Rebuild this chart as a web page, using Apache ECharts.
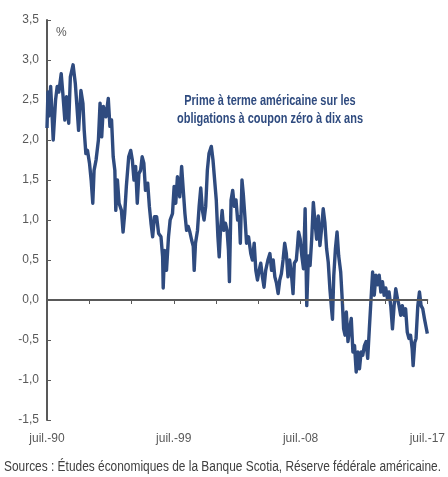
<!DOCTYPE html>
<html><head><meta charset="utf-8">
<script src="https://cdn.jsdelivr.net/npm/echarts@6/dist/echarts.min.js"></script>
<style>html,body{margin:0;padding:0;background:#fff}#c{width:448px;height:477px}</style>
</head><body><div id="c"></div>
<script>
// months since July 1990
const months = [0,0.8,1.6,3.1,4.2,5.3,7.3,8.7,10.1,12.1,13.5,15.2,16.6,18.5,19.9,22.2,24.1,25.5,26.9,28.9,30.6,31.7,33.1,34.5,36.2,37.6,39.0,40.1,41.8,43.8,45.2,46.6,48.0,50.2,52.2,53.6,55.0,56.4,57.8,58.6,60.0,61.4,63.4,64.8,66.2,67.6,69.6,71.3,72.7,74.1,75.5,76.9,78.3,79.7,81.1,82.5,83.9,85.8,87.2,88.6,90.0,91.5,93.4,95.1,97.1,98.5,99.0,100.2,101.8,103.5,104.9,106.9,108.3,109.7,111.1,113.1,114.7,116.1,117.5,118.9,120.3,121.7,123.2,124.6,125.4,126.5,128.2,129.6,131.0,132.4,133.8,135.2,136.6,138.0,140.0,141.4,142.8,144.2,145.6,146.7,147.8,149.2,150.6,152.0,153.4,154.6,155.4,156.8,158.2,159.6,161.0,162.4,163.8,164.7,166.1,167.2,168.6,170.0,171.7,173.6,175.0,176.5,177.9,179.3,180.7,182.1,183.5,184.9,186.3,188.2,189.9,191.3,192.7,194.1,195.5,196.9,198.3,199.7,201.1,202.5,203.9,205.3,206.7,208.2,209.6,210.7,212.4,213.2,214.3,215.7,217.1,218.5,219.9,221.3,222.7,224.1,225.5,226.9,228.3,229.7,231.1,232.5,233.9,235.3,236.7,238.2,239.6,241.0,242.4,243.2,244.3,245.7,247.1,248.5,250.2,251.6,252.7,253.9,255.0,256.4,257.8,259.2,260.6,262.0,263.4,264.8,266.2,267.6,269.0,270.4,271.8,273.2,274.6,276.0,277.4,278.8,280.2,281.6,283.0,284.4,285.8,287.2,288.6,290.0,291.4,292.9,294.3,295.7,297.1,298.5,299.9,301.3,302.7,304.1,305.5,306.9,308.3,309.7,311.1,311.9,313.3,314.4,315.9,317.3,318.7,320.1,321.5,323.2,324.0];
const values = [2.15,2.6,2.3,2.67,2.35,2.0,2.5,2.67,2.6,2.83,2.58,2.25,2.54,2.21,2.79,2.94,2.71,2.42,2.12,2.62,2.46,2.12,1.83,1.87,1.71,1.5,1.21,1.62,1.75,2.0,2.46,2.04,2.42,2.29,2.52,2.17,2.25,1.79,1.62,1.12,1.5,1.21,1.12,0.85,1.08,1.42,1.79,1.87,1.75,1.5,1.67,1.21,1.58,1.62,1.79,1.71,1.37,1.46,1.17,0.96,0.79,1.04,1.04,0.83,0.79,0.54,0.15,0.62,0.37,0.79,1.0,1.08,1.42,1.21,1.54,1.29,1.67,1.37,1.08,0.87,0.92,0.85,0.75,0.67,0.37,0.71,0.87,1.17,1.4,1.12,1.0,1.17,1.62,1.83,1.92,1.75,1.5,1.25,0.79,0.54,0.87,1.12,0.87,0.96,0.87,0.62,0.23,1.25,1.37,1.17,1.25,1.0,1.04,0.71,1.5,1.33,1.04,0.71,0.79,0.58,0.5,0.71,0.37,0.25,0.37,0.46,0.29,0.16,0.37,0.5,0.58,0.37,0.5,0.29,0.21,0.08,0.25,0.33,0.5,0.71,0.58,0.29,0.5,0.33,0.08,0.46,0.5,0.64,0.85,0.76,0.55,0.39,1.14,-0.07,0.55,0.43,0.76,1.22,0.97,0.76,1.05,0.68,0.89,1.14,0.97,0.64,0.47,0.14,-0.11,-0.24,0.3,0.64,0.85,0.55,0.35,-0.02,-0.36,-0.44,-0.15,-0.52,-0.36,-0.23,-0.65,-0.57,-0.9,-0.65,-0.86,-0.65,-0.69,-0.57,-0.52,-0.73,-0.36,0.0,0.35,0.06,0.31,0.19,0.31,0.1,0.23,0.06,0.15,0.02,0.1,-0.08,-0.36,-0.07,0.14,0.02,-0.07,-0.19,-0.07,-0.19,-0.11,-0.4,-0.48,-0.44,-0.61,-0.82,-0.53,-0.48,-0.07,0.1,-0.07,-0.11,-0.23,-0.36,-0.42];
const labelMonths = [0, 108, 216, 324];
const labelTexts = ['juil.-90', 'juil.-99', 'juil.-08', 'juil.-17'];
const titleLines = ['Prime à terme américaine sur les', 'obligations à coupon zéro à dix ans'];
const unitText = '%';
const sourceText = 'Sources : Études économiques de la Banque Scotia, Réserve fédérale américaine.';

const FONT = "'Liberation Sans',Arial,sans-serif";
const AXIS = '#595959';
const LINE = '#2f4b7f';

// measure text to compress it horizontally (the original uses a narrow face)
const ctx = document.createElement('canvas').getContext('2d');
function textW(txt, font) { ctx.font = font; return ctx.measureText(txt).width; }
const TITLE_FONT = 'bold 14px ' + FONT;
const SRC_FONT = '14px ' + FONT;
const titleScale = 186 / Math.max(textW(titleLines[0], TITLE_FONT), textW(titleLines[1], TITLE_FONT));
const srcScale = 437 / textW(sourceText, SRC_FONT);

const chart = echarts.init(document.getElementById('c'), null, {renderer: 'canvas'});
const data = months.map((m, i) => [m, values[i]]);

chart.setOption({
  animation: false,
  grid: {left: 47, right: 16, top: 20, bottom: 57, containLabel: false},
  xAxis: [{
    type: 'value', min: 0, max: 324, interval: 36, z: 5,
    axisLine: {show: true, onZero: true, lineStyle: {color: AXIS, width: 2}},
    axisTick: {show: true, inside: false, length: 4, lineStyle: {color: AXIS, width: 1}},
    axisLabel: {show: false},
    splitLine: {show: false}
  }, {
    type: 'value', min: 0, max: 324, interval: 36, position: 'bottom',
    axisLine: {show: false, onZero: false},
    axisTick: {show: false},
    splitLine: {show: false},
    axisLabel: {
      show: true, margin: 13, color: AXIS, fontSize: 12, fontFamily: FONT,
      showMinLabel: true, showMaxLabel: true,
      formatter: v => { const i = labelMonths.indexOf(Math.round(v)); return i >= 0 ? labelTexts[i] : ''; }
    }
  }],
  yAxis: {
    type: 'value', min: -1.5, max: 3.5, interval: 0.5,
    axisLine: {show: true, onZero: false, lineStyle: {color: AXIS, width: 2}},
    axisTick: {show: true, inside: true, length: 4, lineStyle: {color: AXIS, width: 1}},
    splitLine: {show: false},
    axisLabel: {color: AXIS, fontSize: 12, fontFamily: FONT, margin: 8,
      formatter: v => v.toFixed(1).replace('.', ',')}
  },
  series: [{
    type: 'line', xAxisIndex: 0, data: data, showSymbol: false, symbol: 'none',
    lineStyle: {color: LINE, width: 3.4, join: 'round'}, z: 2
  }],
  graphic: [
    {type: 'text', x: 56, y: 27, style: {text: unitText, fill: AXIS, font: '12px ' + FONT}},
    {type: 'text', x: 270, y: 92, scaleX: titleScale, style: {text: titleLines.join('\n'), fill: LINE, align: 'center', textAlign: 'center', lineHeight: 18, font: TITLE_FONT}},
    {type: 'text', x: 4, y: 460, scaleX: srcScale, style: {text: sourceText, fill: '#404040', font: SRC_FONT}}
  ]
});
</script></body></html>
